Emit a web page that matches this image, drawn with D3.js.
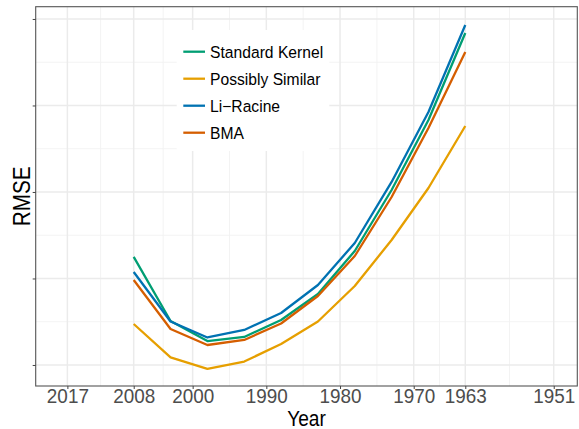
<!DOCTYPE html>
<html>
<head>
<meta charset="utf-8">
<script src="https://cdn.jsdelivr.net/npm/d3@7"></script>
<style>
  html, body { margin: 0; padding: 0; background: #fff; }
  svg { display: block; font-family: "Liberation Sans", Arial, sans-serif; }
</style>
</head>
<body>
<svg id="chart" width="579" height="429"></svg>
<script>
// ---- data ----
const years = [2008, 2003, 1998, 1993, 1988, 1983, 1978, 1973, 1968, 1963];
const standardKernel = [2.249, 1.509, 1.277, 1.324, 1.520, 1.821, 2.318, 3.023, 3.832, 4.838];
const possiblySimilar = [1.474, 1.087, 0.954, 1.040, 1.243, 1.503, 1.913, 2.445, 3.046, 3.763];
const liRacine = [2.075, 1.503, 1.318, 1.405, 1.601, 1.925, 2.410, 3.116, 3.925, 4.931];
const bma = [1.983, 1.416, 1.231, 1.289, 1.480, 1.798, 2.260, 2.942, 3.740, 4.618];
const seriesNames = ["Standard Kernel", "Possibly Similar", "Li\u2212Racine", "BMA"];
const seriesColors = ["#009E73", "#E69F00", "#0072B2", "#D55E00"];
const xTicks = [2017, 2008, 2000, 1990, 1980, 1970, 1963, 1951];
const xMinor = [2012.5, 2004, 1995, 1985, 1975, 1966.5, 1957];
const yTicks = [1, 2, 3, 4, 5];
const yMinor = [1.5, 2.5, 3.5, 4.5];

const series = [standardKernel, possiblySimilar, liRacine, bma].map((vals, i) => ({
  name: seriesNames[i], color: seriesColors[i],
  values: years.map((y, j) => ({ year: y, v: vals[j] }))
}));

// ---- layout ----
const svg = d3.select("#chart");
const L = 35.7, R = 577.3, T = 6.7, B = 386;
const x = d3.scaleLinear().domain([2021.3, 1947.8]).range([L, R]);
const y = d3.scaleLinear().domain([0.757, 5.142]).range([B, T]);

svg.append("rect").attr("x", 0).attr("y", 0).attr("width", 579).attr("height", 429).attr("fill", "#fff");

// grid
const grid = svg.append("g");
grid.selectAll(".ymin").data(yMinor).join("line")
  .attr("x1", L).attr("x2", R).attr("y1", d => y(d)).attr("y2", d => y(d))
  .attr("stroke", "#F2F2F2").attr("stroke-width", 0.9);
grid.selectAll(".xmin").data(xMinor).join("line")
  .attr("y1", T).attr("y2", B).attr("x1", d => x(d)).attr("x2", d => x(d))
  .attr("stroke", "#F2F2F2").attr("stroke-width", 0.9);
grid.selectAll(".ymaj").data(yTicks).join("line")
  .attr("x1", L).attr("x2", R).attr("y1", d => y(d)).attr("y2", d => y(d))
  .attr("stroke", "#EBEBEB").attr("stroke-width", 1.5);
grid.selectAll(".xmaj").data(xTicks).join("line")
  .attr("y1", T).attr("y2", B).attr("x1", d => x(d)).attr("x2", d => x(d))
  .attr("stroke", "#EBEBEB").attr("stroke-width", 1.5);

// lines
const line = d3.line().x(d => x(d.year)).y(d => y(d.v));
svg.append("g").selectAll("path").data(series).join("path")
  .attr("d", d => line(d.values))
  .attr("fill", "none")
  .attr("stroke", d => d.color)
  .attr("stroke-width", 2.3)
  .attr("stroke-linejoin", "round");

// panel border
svg.append("rect").attr("x", L).attr("y", T).attr("width", R - L).attr("height", B - T)
  .attr("fill", "none").attr("stroke", "#555").attr("stroke-width", 1.1);

// axes
const xAxis = svg.append("g").attr("transform", `translate(0,${B})`)
  .call(d3.axisBottom(x).tickValues(xTicks).tickFormat(d3.format("d")).tickSize(3).tickSizeOuter(0));
xAxis.select(".domain").remove();
xAxis.selectAll(".tick line").attr("stroke", "#444").attr("stroke-width", 1);
xAxis.selectAll(".tick text")
  .attr("y", 17).attr("dy", 0)
  .attr("transform", "scale(0.9,1)")
  .attr("fill", "#4D4D4D")
  .style("font-size", "21px")
  .style("font-family", "'Liberation Sans', Arial, sans-serif");

const yAxis = svg.append("g").attr("transform", `translate(${L},0)`)
  .call(d3.axisLeft(y).tickValues(yTicks).tickFormat("").tickSize(3).tickSizeOuter(0));
yAxis.select(".domain").remove();
yAxis.selectAll(".tick line").attr("stroke", "#444").attr("stroke-width", 1);

// axis titles
svg.append("text")
  .attr("transform", `translate(${(L + R) / 2},426) scale(0.85,1)`)
  .attr("text-anchor", "middle")
  .attr("fill", "#000")
  .style("font-size", "22.5px")
  .text("Year");
svg.append("text")
  .attr("transform", `translate(30,${(T + B) / 2}) rotate(-90) scale(0.9,1)`)
  .attr("text-anchor", "middle")
  .attr("fill", "#000")
  .style("font-size", "23px")
  .text("RMSE");

// legend
const lg = svg.append("g");
lg.append("rect").attr("x", 176.7).attr("y", 30).attr("width", 152.6).attr("height", 121)
  .attr("fill", "#fff");
const items = lg.selectAll(".item").data(series).join("g")
  .attr("transform", (d, i) => `translate(0,${51.7 + i * 27})`);
items.append("line").attr("x1", 183.3).attr("x2", 205).attr("y1", 0).attr("y2", 0)
  .attr("stroke", d => d.color).attr("stroke-width", 2.3);
items.append("text")
  .attr("transform", "translate(210,5.9) scale(0.95,1)")
  .attr("fill", "#000")
  .style("font-size", "16.5px")
  .text(d => d.name);
</script>
</body>
</html>
